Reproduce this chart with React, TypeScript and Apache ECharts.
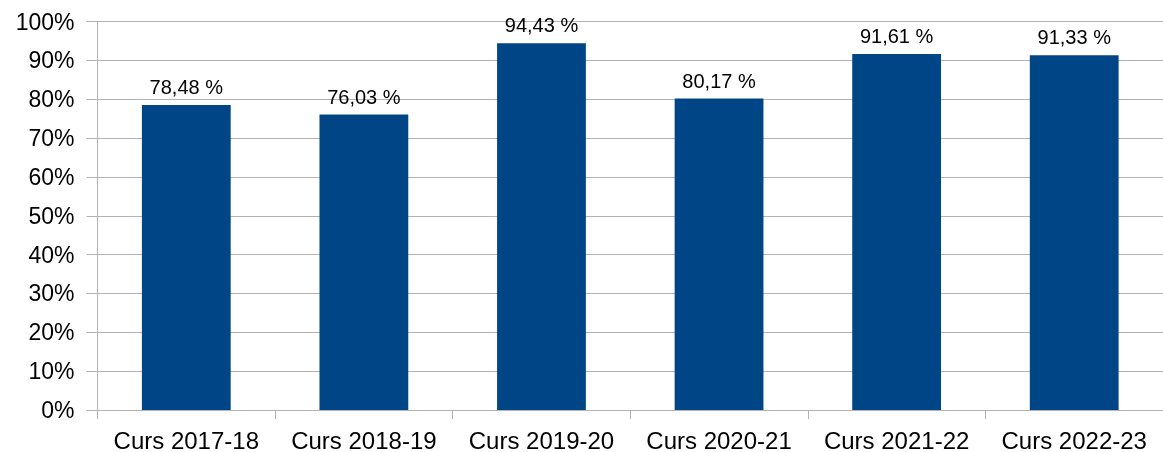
import React, { useEffect, useRef } from "react";
import * as echarts from "echarts";

const categories = ["Curs 2017-18", "Curs 2018-19", "Curs 2019-20", "Curs 2020-21", "Curs 2021-22", "Curs 2022-23"];
const values = [78.48, 76.03, 94.43, 80.17, 91.61, 91.33];

export default function App() {
  const ref = useRef<HTMLDivElement>(null);
  useEffect(() => {
    const chart = echarts.init(ref.current!, null, { renderer: "svg" });
    const font = "'Liberation Sans', Arial, sans-serif";
    chart.setOption({
      animation: false,
      grid: { left: 97.5, top: 21.5, height: 389.5, width: 1071, containLabel: false },
      xAxis: {
        type: "category",
        data: categories,
        boundaryGap: true,
        axisLine: { show: true, lineStyle: { color: "#b3b3b3", width: 1 } },
        axisTick: { show: true, length: 9, lineStyle: { color: "#b3b3b3" } },
        axisLabel: { color: "#000", fontSize: 24, fontFamily: font, margin: 18, interval: 0 },
        splitLine: { show: false },
      },
      yAxis: {
        type: "value",
        min: 0,
        max: 100,
        interval: 10,
        axisLine: { show: true, lineStyle: { color: "#b3b3b3", width: 1 } },
        axisTick: { show: true, length: 11, lineStyle: { color: "#b3b3b3" } },
        axisLabel: { color: "#000", fontSize: 23, fontFamily: font, margin: 23, formatter: (v: number) => v + "%" },
        splitLine: { show: true, lineStyle: { color: "#b3b3b3", width: 1 } },
      },
      series: [
        {
          type: "bar",
          data: values,
          barWidth: "50%",
          itemStyle: { color: "#004586" },
          label: {
            show: true,
            position: "top",
            distance: 8,
            color: "#000",
            fontSize: 20,
            fontFamily: font,
            formatter: (p: any) => p.value.toFixed(2).replace(".", ",") + " %",
          },
        },
      ],
    });
    return () => chart.dispose();
  }, []);
  return <div ref={ref} style={{ position: "fixed", left: 0, top: 0, width: 1163, height: 452 }} />;
}
